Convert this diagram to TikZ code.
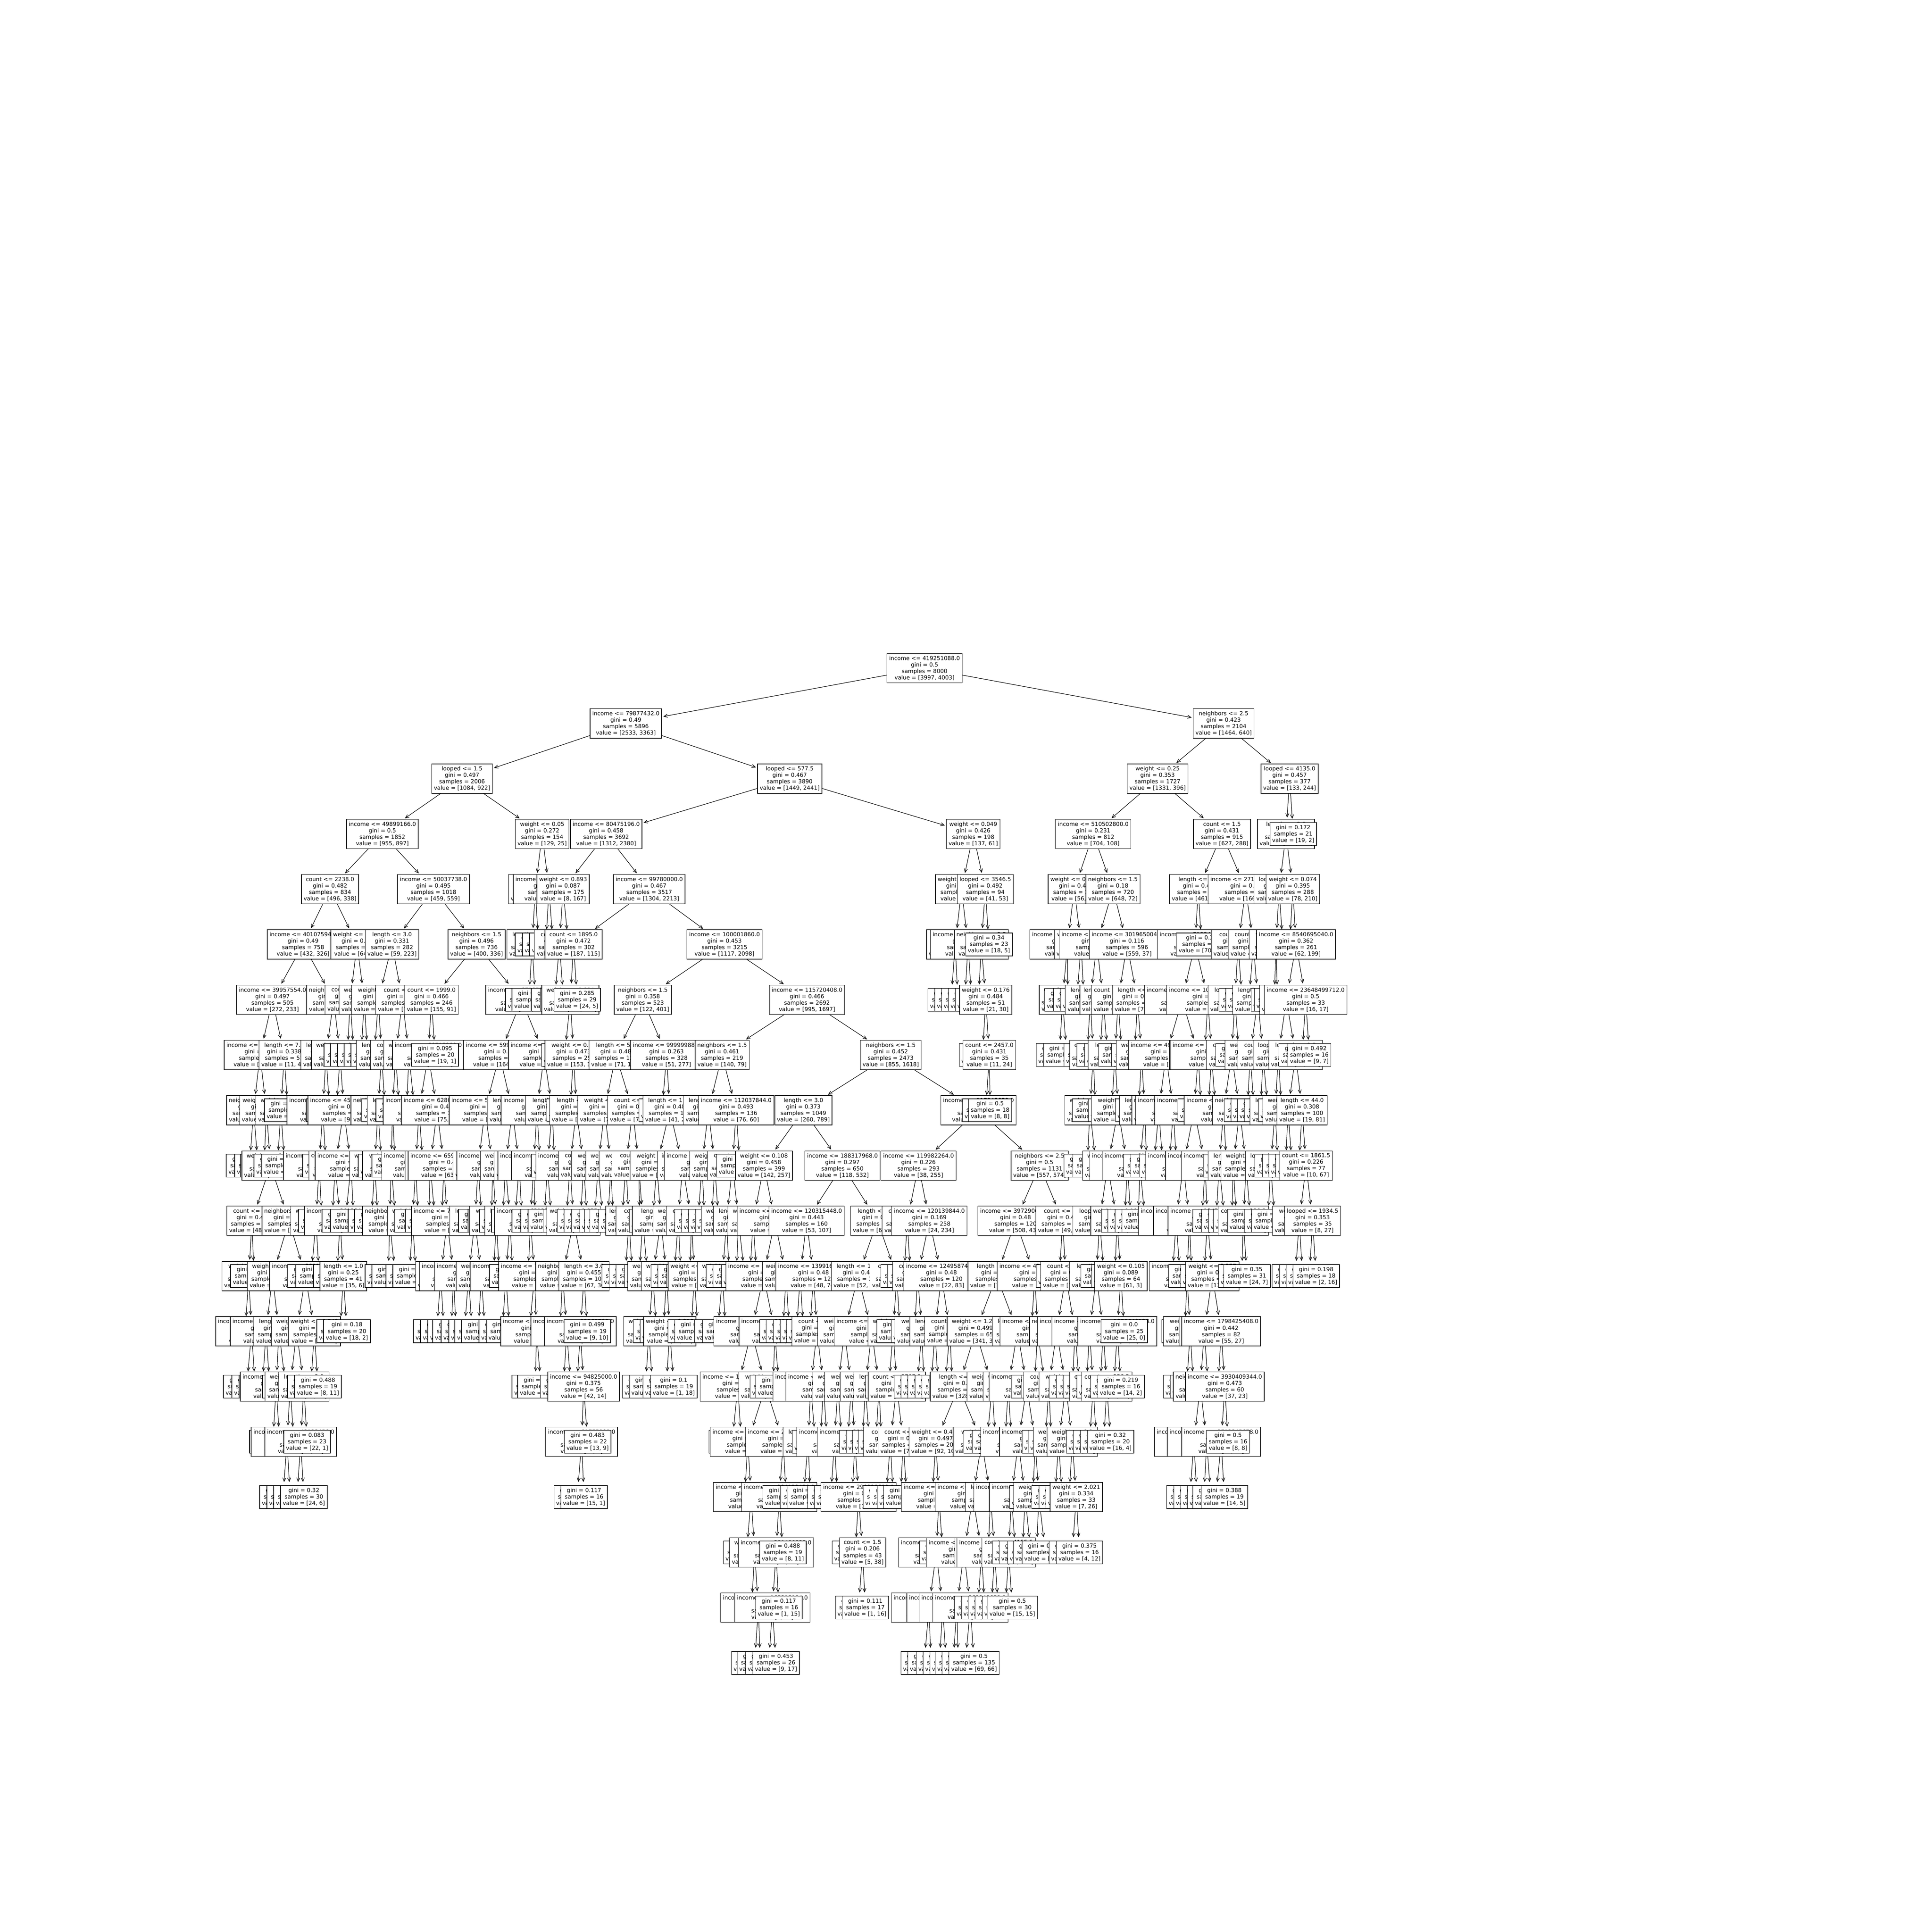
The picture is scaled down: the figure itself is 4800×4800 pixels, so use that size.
\documentclass[tikz,border=0pt]{standalone}
\usepackage{fontspec}
\setmainfont{DejaVu Sans}
\usetikzlibrary{arrows.meta}

% one level of the tree: sets its y and the level of the parents
\newcommand{\lvl}[1]{\def\lv{#1}\pgfmathtruncatemacro\plv{#1-1}\pgfmathsetmacro\ly{1660+137.3*#1}}
% parent x, own x, split, gini, samples, value
\newcommand{\fn}[6]{\node[split] (n\lv x#2) at (#2,\ly) {#3\\gini = #4\\samples = #5\\value = #6};
  \draw[arrow] (n\plv x#1) -- (n\lv x#2);}
% split box of which only a part shows
\newcommand{\cn}[4]{\node[split] (n\lv x#2) at (#2,\ly) {#3\\gini = 0.48\\samples = 120\\value = #4};
  \draw[arrow] (n\plv x#1) -- (n\lv x#2);}
% parent x, own x, gini, samples, value
\newcommand{\lf}[5]{\node[leaf] (n\lv x#2) at (#2,\ly) {gini = #3\\samples = #4\\value = #5};
  \draw[leafarrow] (n\plv x#1) -- (n\lv x#2);}
% leaf covered by its neighbours
\newcommand{\hl}[2]{\node[leaf] (n\lv x#2) at (#2,\ly) {gini = 0.375\\samples = 24\\value = [18, 6]};
  \draw[leafarrow] (n\plv x#1) -- (n\lv x#2);}

\begin{document}
\begin{tikzpicture}[x=0.01in, y=-0.01in]
    \tikzstyle{split}=[rectangle, draw=black, fill=white, line width=1bp, align=center, outer sep=0pt, inner xsep=0.055in, inner ysep=0pt, minimum height=0.73in, font=\fontsize{10bp}{11.56pt}\selectfont]
    \tikzstyle{leaf}=[split, minimum height=0.57in]
    \tikzstyle{arrow}=[->, line width=0.9bp, >={Straight Barb[length=0.09in, width=0.08in]}, shorten >=0.04in]
    \tikzstyle{leafarrow}=[arrow, shorten >=0.09in]

    \useasboundingbox (0,0) rectangle (4800,4800);

    % Root
    \lvl{0}
    \node[split] (n0x2297) at (2297,\ly) {income <= 419251088.0\\gini = 0.5\\samples = 8000\\value = [3997, 4003]};

    % Level 1
    \lvl{1}
    \fn{2297}{1555}{income <= 79877432.0}{0.49}{5896}{[2533, 3363]}
    \fn{2297}{3040}{neighbors <= 2.5}{0.423}{2104}{[1464, 640]}

    % Level 2
    \lvl{2}
    \fn{1555}{1148}{looped <= 1.5}{0.497}{2006}{[1084, 922]}
    \fn{1555}{1962}{looped <= 577.5}{0.467}{3890}{[1449, 2441]}
    \fn{3040}{2876}{weight <= 0.25}{0.353}{1727}{[1331, 396]}
    \fn{3040}{3204}{looped <= 4135.0}{0.457}{377}{[133, 244]}

    % Level 3
    \lvl{3}
    \fn{1148}{950}{income <= 49899166.0}{0.5}{1852}{[955, 897]}
    \fn{1148}{1347}{weight <= 0.05}{0.272}{154}{[129, 25]}
    \fn{1962}{1506}{income <= 80475196.0}{0.458}{3692}{[1312, 2380]}
    \fn{1962}{2418}{weight <= 0.049}{0.426}{198}{[137, 61]}
    \fn{2876}{2716}{income <= 510502800.0}{0.231}{812}{[704, 108]}
    \fn{2876}{3036}{count <= 1.5}{0.431}{915}{[627, 288]}
    \cn{3204}{3195}{length <= 3.0}{[114, 242]}
    \lf{3204}{3213}{0.172}{21}{[19, 2]}

    % Level 4
    \lvl{4}
    \fn{950}{820}{count <= 2238.0}{0.482}{834}{[496, 338]}
    \fn{950}{1077}{income <= 50037738.0}{0.495}{1018}{[459, 559]}
    \cn{1347}{1330}{count <= 2.5}{[72, 148]}
    \cn{1347}{1364}{income <= 91234567.0}{[72, 148]}
    \fn{1506}{1399}{weight <= 0.893}{0.087}{175}{[8, 167]}
    \fn{1506}{1613}{income <= 99780000.0}{0.467}{3517}{[1304, 2213]}
    \cn{2418}{2389}{weight <= 0.512}{[96, 8]}
    \fn{2418}{2448}{looped <= 3546.5}{0.492}{94}{[41, 53]}
    \cn{2716}{2669}{weight <= 0.712}{[56, 36]}
    \fn{2716}{2765}{neighbors <= 1.5}{0.18}{720}{[648, 72]}
    \cn{3036}{2977}{length <= 3.0}{[461, 120]}
    \cn{3036}{3095}{income <= 271923456.0}{[166, 168]}
    \cn{3195}{3178}{looped <= 5.5}{[36, 32]}
    \fn{3195}{3212}{weight <= 0.074}{0.395}{288}{[78, 210]}

    % Level 5
    \lvl{5}
    \fn{820}{753}{income <= 40107594.0}{0.49}{758}{[432, 326]}
    \cn{820}{887}{weight <= 0.212}{[64, 12]}
    \fn{1077}{974}{length <= 3.0}{0.331}{282}{[59, 223]}
    \fn{1077}{1184}{neighbors <= 1.5}{0.496}{736}{[400, 336]}
    \cn{1330}{1322}{length <= 4.5}{[72, 48]}
    \hl{1330}{1338}
    \hl{1364}{1356}
    \hl{1364}{1374}
    \cn{1399}{1390}{count <= 2.5}{[72, 48]}
    \hl{1399}{1412}
    \fn{1613}{1425}{count <= 1895.0}{0.472}{302}{[187, 115]}
    \fn{1613}{1800}{income <= 100001860.0}{0.453}{3215}{[1117, 2098]}
    \cn{2389}{2373}{length <= 3.0}{[172, 148]}
    \cn{2389}{2405}{income <= 123456789.0}{[72, 48]}
    \cn{2448}{2438}{neighbors <= 2.5}{[21, 30]}
    \lf{2448}{2457}{0.34}{23}{[18, 5]}
    \cn{2669}{2652}{income <= 412345678.0}{[72, 48]}
    \cn{2669}{2686}{weight <= 0.812}{[72, 148]}
    \cn{2765}{2725}{income <= 212345678.0}{[89, 35]}
    \fn{2765}{2800}{income <= 301965004.0}{0.116}{596}{[559, 37]}
    \cn{2977}{2969}{income <= 712345678.0}{[391, 98]}
    \lf{2977}{2985}{0.32}{20}{[70, 22]}
    \cn{3095}{3076}{count <= 4.5}{[72, 148]}
    \cn{3095}{3114}{count <= 3.5}{[72, 48]}
    \cn{3178}{3170}{weight <= 0.9}{[72, 148]}
    \hl{3178}{3187}
    \hl{3212}{3204}
    \fn{3212}{3220}{income <= 8540695040.0}{0.362}{261}{[62, 199]}

    % Level 6
    \lvl{6}
    \fn{753}{677}{income <= 39957554.0}{0.497}{505}{[272, 233]}
    \cn{753}{829}{neighbors <= 1.5}{[160, 93]}
    \cn{887}{870}{count <= 5.5}{[72, 48]}
    \cn{887}{905}{weight <= 0.3}{[72, 48]}
    \cn{974}{940}{weight <= 0.4}{[72, 148]}
    \cn{974}{1000}{count <= 6.5}{[72, 148]}
    \fn{1184}{1072}{count <= 1999.0}{0.466}{246}{[155, 91]}
    \cn{1184}{1296}{income <= 87185344.0}{[245, 245]}
    \hl{1322}{1314}
    \hl{1322}{1330}
    \hl{1390}{1378}
    \hl{1390}{1400}
    \cn{1425}{1417}{weight <= 0.884}{[163, 110]}
    \lf{1425}{1434}{0.285}{29}{[24, 5]}
    \fn{1800}{1597}{neighbors <= 1.5}{0.358}{523}{[122, 401]}
    \fn{1800}{2005}{income <= 115720408.0}{0.466}{2692}{[995, 1697]}
    \hl{2373}{2363}
    \hl{2373}{2380}
    \hl{2405}{2397}
    \hl{2405}{2414}
    \hl{2438}{2431}
    \fn{2438}{2449}{weight <= 0.176}{0.484}{51}{[21, 30]}
    \cn{2652}{2640}{count <= 4.5}{[24, 5]}
    \hl{2652}{2653}
    \hl{2686}{2675}
    \hl{2686}{2693}
    \cn{2725}{2709}{length <= 7.5}{[72, 48]}
    \cn{2725}{2741}{length <= 3.5}{[24, 5]}
    \cn{2800}{2778}{count <= 2105.5}{[72, 148]}
    \cn{2800}{2826}{length <= 4.5}{[72, 48]}
    \cn{2969}{2937}{income <= 612345678.0}{[72, 48]}
    \cn{2969}{3001}{income <= 10123456768.0}{[72, 48]}
    \cn{3076}{3068}{looped <= 6.5}{[72, 148]}
    \hl{3076}{3086}
    \hl{3114}{3103}
    \cn{3114}{3125}{length <= 9.5}{[72, 48]}
    \hl{3170}{3166}
    \hl{3170}{3174}
    \cn{3220}{3196}{weight <= 0.3}{[46, 182]}
    \fn{3220}{3244}{income <= 23648499712.0}{0.5}{33}{[16, 17]}

    % Level 7
    \lvl{7}
    \cn{677}{646}{income <= 38123456.0}{[261, 193]}
    \fn{677}{706}{length <= 7.0}{0.338}{51}{[11, 40]}
    \cn{829}{810}{length <= 2.5}{[72, 48]}
    \cn{829}{845}{weight <= 0.412}{[172, 148]}
    \hl{870}{863}
    \hl{870}{879}
    \hl{905}{897}
    \hl{905}{913}
    \hl{940}{930}
    \cn{940}{948}{length <= 6.5}{[72, 48]}
    \cn{1000}{983}{count <= 3.5}{[72, 48]}
    \cn{1000}{1016}{weight <= 0.5}{[72, 48]}
    \cn{1072}{1064}{income <= 50717200.0}{[136, 90]}
    \lf{1072}{1081}{0.095}{20}{[19, 1]}
    \cn{1296}{1241}{income <= 59912345.0}{[164, 130]}
    \cn{1296}{1352}{income <= 71234567.0}{[81, 115]}
    \hl{1417}{1403}
    \fn{1417}{1425}{weight <= 0.05}{0.473}{253}{[153, 100]}
    \cn{1597}{1530}{length <= 5.5}{[71, 124]}
    \fn{1597}{1656}{income <= 99999988.0}{0.263}{328}{[51, 277]}
    \fn{2005}{1794}{neighbors <= 1.5}{0.461}{219}{[140, 79]}
    \fn{2005}{2213}{neighbors <= 1.5}{0.452}{2473}{[855, 1618]}
    \hl{2449}{2441}
    \fn{2449}{2458}{count <= 2457.0}{0.431}{35}{[11, 24]}
    \hl{2640}{2632}
    \hl{2640}{2650}
    \hl{2709}{2701}
    \cn{2709}{2716}{count <= 5.5}{[24, 5]}
    \hl{2741}{2733}
    \hl{2741}{2752}
    \cn{2778}{2770}{length <= 8.5}{[72, 148]}
    \hl{2778}{2787}
    \hl{2826}{2819}
    \cn{2826}{2836}{weight <= 0.6}{[72, 48]}
    \cn{2937}{2897}{income <= 491234567.0}{[72, 48]}
    \cn{2937}{2977}{length <= 6.5}{[172, 148]}
    \hl{3001}{2993}
    \cn{3001}{3010}{income <= 12345678912.0}{[72, 48]}
    \cn{3068}{3060}{count <= 2.5}{[72, 48]}
    \hl{3068}{3078}
    \cn{3125}{3106}{weight <= 0.7}{[72, 48]}
    \cn{3125}{3138}{count <= 7.5}{[72, 48]}
    \cn{3196}{3176}{looped <= 8.5}{[72, 48]}
    \cn{3196}{3219}{looped <= 2.5}{[72, 148]}
    \hl{3244}{3235}
    \lf{3244}{3253}{0.492}{16}{[9, 7]}

    % Level 8
    \lvl{8}
    \cn{646}{630}{neighbors <= 2.5}{[72, 148]}
    \cn{646}{662}{weight <= 0.338}{[172, 48]}
    \cn{706}{698}{weight <= 0.2}{[72, 48]}
    \hl{706}{715}
    \cn{810}{802}{income <= 38567890.0}{[72, 48]}
    \hl{810}{819}
    \hl{845}{836}
    \cn{845}{854}{income <= 45123456.0}{[97, 63]}
    \cn{948}{939}{neighbors <= 3.5}{[72, 148]}
    \hl{948}{957}
    \cn{983}{975}{length <= 4.5}{[72, 48]}
    \hl{983}{992}
    \hl{1016}{1010}
    \hl{1016}{1030}
    \cn{1064}{1041}{income <= 48123456.0}{[72, 48]}
    \cn{1064}{1086}{income <= 62801234.0}{[75, 85]}
    \cn{1241}{1205}{income <= 52345678.0}{[72, 48]}
    \cn{1241}{1273}{length <= 2.5}{[72, 48]}
    \cn{1352}{1334}{income <= 68123456.0}{[72, 48]}
    \cn{1352}{1372}{length <= 3.5}{[72, 148]}
    \hl{1425}{1416}
    \cn{1425}{1432}{length <= 5.5}{[72, 148]}
    \cn{1530}{1502}{weight <= 0.4}{[72, 148]}
    \cn{1530}{1572}{count <= 8.5}{[72, 48]}
    \hl{1656}{1645}
    \cn{1656}{1664}{length <= 11.5}{[41, 253]}
    \cn{1794}{1760}{length <= 9.5}{[72, 48]}
    \fn{1794}{1829}{income <= 112037844.0}{0.493}{136}{[76, 60]}
    \fn{2213}{1996}{length <= 3.0}{0.373}{1049}{[260, 789]}
    \cn{2213}{2431}{income <= 117345678.0}{[595, 829]}
    \hl{2458}{2449}
    \lf{2458}{2460}{0.5}{18}{[8, 8]}
    \cn{2716}{2708}{weight <= 0.5}{[72, 48]}
    \hl{2716}{2722}
    \hl{2770}{2762}
    \cn{2770}{2778}{weight <= 0.3}{[72, 148]}
    \hl{2836}{2829}
    \cn{2836}{2844}{length <= 2.5}{[72, 48]}
    \cn{2897}{2879}{neighbors <= 2.5}{[72, 148]}
    \cn{2897}{2915}{income <= 521234567.0}{[72, 48]}
    \cn{2977}{2967}{income <= 6123456789.0}{[72, 48]}
    \hl{2977}{2984}
    \hl{3010}{3002}
    \hl{3010}{3020}
    \cn{3060}{3040}{income <= 2345678912.0}{[72, 48]}
    \cn{3060}{3080}{neighbors <= 3.5}{[72, 48]}
    \hl{3106}{3099}
    \hl{3106}{3116}
    \hl{3138}{3132}
    \hl{3138}{3150}
    \cn{3176}{3168}{length <= 6.5}{[72, 48]}
    \hl{3176}{3184}
    \cn{3219}{3200}{weight <= 0.9}{[72, 48]}
    \fn{3219}{3235}{length <= 44.0}{0.308}{100}{[19, 81]}

    % Level 9
    \lvl{9}
    \hl{630}{620}
    \hl{630}{641}
    \hl{662}{656}
    \cn{662}{672}{weight <= 0.212}{[172, 148]}
    \hl{698}{689}
    \hl{698}{707}
    \cn{802}{793}{income <= 37123456.0}{[72, 48]}
    \hl{802}{810}
    \cn{854}{833}{count <= 1755.5}{[72, 48]}
    \cn{854}{872}{income <= 47123456.0}{[72, 48]}
    \cn{939}{931}{weight <= 0.6}{[72, 48]}
    \hl{939}{948}
    \cn{975}{972}{weight <= 0.45}{[172, 148]}
    \hl{975}{982}
    \hl{1041}{1051}
    \cn{1041}{1033}{income <= 4712345.0}{[72, 48]}
    \cn{1086}{1069}{weight <= 0.8}{[72, 48]}
    \cn{1086}{1103}{income <= 65901234.0}{[63, 77]}
    \cn{1205}{1188}{income <= 1.5}{[72, 48]}
    \cn{1205}{1224}{income <= 54123456.0}{[72, 48]}
    \cn{1273}{1256}{weight <= 0.5}{[72, 48]}
    \cn{1273}{1290}{weight <= 0.1}{[72, 48]}
    \cn{1334}{1326}{income <= 66123456.0}{[72, 48]}
    \hl{1334}{1342}
    \cn{1372}{1360}{income <= 69123456.0}{[72, 48]}
    \hl{1372}{1378}
    \cn{1432}{1416}{income <= 7212345.0}{[72, 48]}
    \cn{1432}{1450}{count <= 4.5}{[72, 48]}
    \cn{1502}{1486}{weight <= 0.3}{[72, 148]}
    \cn{1502}{1518}{weight <= 0.2}{[72, 48]}
    \cn{1572}{1555}{weight <= 0.4}{[72, 148]}
    \cn{1572}{1587}{count <= 2.5}{[72, 148]}
    \cn{1664}{1632}{weight <= 0.7}{[72, 148]}
    \cn{1664}{1696}{income <= 1.5}{[72, 48]}
    \cn{1760}{1744}{income <= 101234567.0}{[72, 48]}
    \cn{1760}{1776}{weight <= 0.6}{[72, 48]}
    \cn{1829}{1820}{count <= 3.5}{[72, 48]}
    \hl{1829}{1838}
    \fn{1996}{1898}{weight <= 0.108}{0.458}{399}{[142, 257]}
    \fn{1996}{2093}{income <= 188317968.0}{0.297}{650}{[118, 532]}
    \fn{2431}{2282}{income <= 119982264.0}{0.226}{293}{[38, 255]}
    \fn{2431}{2583}{neighbors <= 2.5}{0.5}{1131}{[557, 574]}
    \hl{2708}{2701}
    \hl{2708}{2723}
    \cn{2778}{2752}{weight <= 0.3}{[72, 48]}
    \cn{2778}{2801}{income <= 712345678.0}{[72, 48]}
    \cn{2844}{2832}{income <= 812345678.0}{[72, 48]}
    \hl{2844}{2849}
    \hl{2879}{2867}
    \hl{2879}{2889}
    \hl{2915}{2905}
    \hl{2915}{2923}
    \cn{2967}{2940}{income <= 912345678.0}{[72, 48]}
    \cn{2967}{2994}{income <= 1123456789.0}{[72, 48]}
    \cn{3040}{3029}{income <= 212345678.0}{[72, 48]}
    \hl{3040}{3047}
    \cn{3080}{3064}{length <= 3.5}{[72, 48]}
    \cn{3080}{3096}{weight <= 0.5}{[72, 48]}
    \cn{3168}{3157}{looped <= 1.5}{[72, 48]}
    \hl{3168}{3175}
    \hl{3200}{3194}
    \hl{3200}{3210}
    \hl{3235}{3227}
    \fn{3235}{3245}{count <= 1861.5}{0.226}{77}{[10, 67]}

    % Level 10
    \lvl{10}
    \cn{672}{626}{count <= 4.5}{[48, 12]}
    \cn{672}{718}{neighbors <= 2.5}{[72, 148]}
    \cn{793}{785}{weight <= 0.3}{[72, 48]}
    \hl{793}{800}
    \hl{833}{825}
    \cn{833}{845}{income <= 36123456.0}{[72, 48]}
    \hl{872}{858}
    \hl{872}{879}
    \hl{931}{923}
    \hl{931}{939}
    \hl{972}{983}
    \cn{972}{968}{neighbors <= 1.5}{[24, 5]}
    \cn{1033}{1025}{weight <= 0.4}{[72, 48]}
    \hl{1033}{1039}
    \hl{1069}{1065}
    \hl{1069}{1081}
    \hl{1103}{1097}
    \cn{1103}{1111}{income <= 71234567.0}{[72, 48]}
    \cn{1188}{1180}{length <= 4.5}{[72, 48]}
    \hl{1188}{1197}
    \hl{1224}{1221}
    \cn{1224}{1233}{weight <= 0.3}{[72, 148]}
    \hl{1256}{1249}
    \cn{1256}{1267}{length <= 2.5}{[72, 48]}
    \hl{1290}{1279}
    \hl{1290}{1297}
    \cn{1326}{1318}{income <= 63123456.0}{[72, 48]}
    \hl{1326}{1330}
    \hl{1360}{1352}
    \hl{1360}{1370}
    \hl{1416}{1407}
    \cn{1416}{1425}{weight <= 0.875}{[72, 148]}
    \hl{1450}{1442}
    \hl{1450}{1459}
    \hl{1486}{1477}
    \hl{1486}{1498}
    \hl{1518}{1510}
    \hl{1518}{1523}
    \hl{1555}{1545}
    \cn{1555}{1563}{length <= 2.5}{[24, 5]}
    \hl{1587}{1589}
    \cn{1587}{1597}{count <= 3.5}{[72, 148]}
    \hl{1632}{1621}
    \cn{1632}{1642}{length <= 7.5}{[172, 148]}
    \cn{1696}{1685}{weight <= 0.1}{[72, 48]}
    \cn{1696}{1718}{count <= 6.5}{[72, 48]}
    \hl{1744}{1734}
    \hl{1744}{1751}
    \hl{1776}{1768}
    \hl{1776}{1785}
    \cn{1820}{1805}{weight <= 0.4}{[72, 48]}
    \cn{1820}{1835}{length <= 3.5}{[72, 48]}
    \cn{1898}{1871}{weight <= 0.2}{[72, 48]}
    \cn{1898}{1925}{income <= 108123456.0}{[89, 150]}
    \fn{2093}{2004}{income <= 120315448.0}{0.443}{160}{[53, 107]}
    \cn{2093}{2180}{length <= 8.5}{[65, 425]}
    \cn{2282}{2254}{count <= 2.5}{[14, 21]}
    \fn{2282}{2309}{income <= 120139844.0}{0.169}{258}{[24, 234]}
    \cn{2583}{2523}{income <= 397290624.0}{[508, 437]}
    \cn{2583}{2640}{count <= 3.5}{[49, 137]}
    \cn{2752}{2732}{looped <= 4.5}{[72, 148]}
    \cn{2752}{2775}{weight <= 0.105}{[72, 48]}
    \hl{2801}{2794}
    \hl{2801}{2810}
    \hl{2832}{2828}
    \hl{2832}{2845}
    \cn{2940}{2922}{income <= 812345678.0}{[72, 48]}
    \cn{2940}{2955}{income <= 83456789.0}{[72, 48]}
    \hl{2994}{2986}
    \cn{2994}{3000}{income <= 1347123456.0}{[72, 48]}
    \hl{3029}{3021}
    \hl{3029}{3043}
    \hl{3064}{3060}
    \hl{3064}{3072}
    \cn{3096}{3089}{count <= 256.5}{[72, 48]}
    \hl{3096}{3107}
    \hl{3157}{3150}
    \hl{3157}{3167}
    \cn{3245}{3228}{weight <= 0.3}{[72, 148]}
    \fn{3245}{3261}{looped <= 1934.5}{0.353}{35}{[8, 27]}

    % Level 11
    \lvl{11}
    \cn{626}{618}{weight <= 0.4}{[72, 148]}
    \hl{626}{631}
    \cn{718}{677}{weight <= 0.2}{[72, 48]}
    \cn{718}{759}{income <= 38912345.0}{[72, 48]}
    \hl{785}{773}
    \hl{785}{793}
    \hl{845}{837}
    \fn{845}{853}{length <= 1.0}{0.25}{41}{[35, 6]}
    \hl{968}{965}
    \hl{968}{982}
    \hl{1025}{1017}
    \hl{1025}{1034}
    \cn{1111}{1095}{income <= 1.5}{[72, 48]}
    \cn{1111}{1127}{income <= 7012345.0}{[72, 48]}
    \cn{1180}{1164}{income <= 5312345.0}{[72, 48]}
    \cn{1180}{1196}{weight <= 0.6}{[72, 48]}
    \hl{1233}{1226}
    \hl{1233}{1241}
    \cn{1267}{1257}{income <= 61234567.0}{[72, 48]}
    \hl{1267}{1274}
    \hl{1318}{1312}
    \cn{1318}{1328}{income <= 75123456.0}{[72, 48]}
    \cn{1425}{1398}{neighbors <= 2.5}{[72, 48]}
    \fn{1425}{1451}{length <= 3.0}{0.455}{103}{[67, 36]}
    \hl{1563}{1553}
    \hl{1563}{1571}
    \hl{1597}{1588}
    \hl{1597}{1609}
    \cn{1642}{1622}{weight <= 0.7}{[72, 48]}
    \cn{1642}{1656}{weight <= 0.3}{[72, 48]}
    \hl{1685}{1675}
    \hl{1685}{1692}
    \hl{1718}{1714}
    \cn{1718}{1725}{weight <= 0.212}{[72, 48]}
    \cn{1805}{1795}{weight <= 0.5}{[72, 48]}
    \hl{1805}{1812}
    \hl{1835}{1829}
    \hl{1835}{1850}
    \hl{1871}{1863}
    \hl{1871}{1880}
    \cn{1925}{1897}{income <= 105123456.0}{[72, 48]}
    \cn{1925}{1953}{weight <= 0.4}{[24, 5]}
    \cn{2004}{1988}{count <= 5.5}{[5, 33]}
    \cn{2004}{2021}{income <= 139916224.0}{[48, 74]}
    \cn{2180}{2132}{length <= 12.5}{[52, 308]}
    \cn{2180}{2228}{count <= 4.5}{[72, 148]}
    \hl{2254}{2246}
    \hl{2254}{2262}
    \cn{2309}{2280}{count <= 7.5}{[72, 48]}
    \cn{2309}{2339}{income <= 124958744.0}{[22, 83]}
    \cn{2523}{2476}{length <= 5.5}{[172, 148]}
    \cn{2523}{2571}{income <= 412345678.0}{[72, 48]}
    \hl{2640}{2632}
    \cn{2640}{2648}{count <= 2.5}{[72, 48]}
    \cn{2732}{2724}{length <= 2.5}{[72, 148]}
    \hl{2732}{2743}
    \hl{2775}{2770}
    \fn{2775}{2785}{weight <= 0.105}{0.089}{64}{[61, 3]}
    \hl{2922}{2913}
    \hl{2922}{2932}
    \cn{2955}{2949}{income <= 912345678.0}{[72, 48]}
    \hl{2955}{2961}
    \hl{3000}{2991}
    \cn{3000}{3012}{weight <= 0.377}{[13, 147]}
    \hl{3089}{3085}
    \lf{3089}{3098}{0.35}{31}{[24, 7]}
    \hl{3228}{3218}
    \hl{3228}{3236}
    \hl{3261}{3253}
    \lf{3261}{3270}{0.198}{18}{[2, 16]}

    % Level 12
    \lvl{12}
    \hl{618}{609}
    \cn{618}{625}{income <= 38123456.0}{[72, 48]}
    \cn{677}{661}{income <= 41234567.0}{[72, 48]}
    \cn{677}{693}{length <= 2.5}{[72, 48]}
    \cn{759}{737}{weight <= 0.4}{[72, 48]}
    \cn{759}{781}{weight <= 0.543}{[72, 48]}
    \hl{853}{845}
    \lf{853}{862}{0.18}{20}{[18, 2]}
    \hl{1095}{1085}
    \hl{1095}{1103}
    \hl{1127}{1121}
    \hl{1127}{1133}
    \hl{1164}{1154}
    \hl{1164}{1173}
    \hl{1196}{1188}
    \hl{1196}{1205}
    \hl{1257}{1248}
    \hl{1257}{1266}
    \hl{1328}{1315}
    \cn{1328}{1333}{income <= 78123456.0}{[72, 48]}
    \hl{1398}{1391}
    \cn{1398}{1408}{income <= 88123456.0}{[72, 48]}
    \cn{1451}{1442}{income <= 92263700.0}{[58, 24]}
    \lf{1451}{1459}{0.499}{19}{[9, 10]}
    \cn{1622}{1612}{weight <= 0.5}{[72, 48]}
    \hl{1622}{1631}
    \hl{1656}{1648}
    \cn{1656}{1664}{weight <= 0.318}{[72, 48]}
    \hl{1725}{1717}
    \hl{1725}{1734}
    \hl{1795}{1783}
    \hl{1795}{1803}
    \cn{1897}{1867}{income <= 103456789.0}{[72, 48]}
    \cn{1897}{1925}{income <= 10571234.0}{[72, 48]}
    \hl{1953}{1945}
    \hl{1953}{1961}
    \hl{1988}{1979}
    \hl{1988}{1996}
    \hl{2021}{2012}
    \cn{2021}{2030}{count <= 2.5}{[72, 48]}
    \cn{2132}{2098}{weight <= 0.3}{[72, 148]}
    \cn{2132}{2166}{income <= 235678912.0}{[35, 70]}
    \cn{2228}{2219}{weight <= 0.1}{[72, 48]}
    \hl{2228}{2236}
    \hl{2280}{2272}
    \cn{2280}{2290}{weight <= 0.8}{[72, 148]}
    \cn{2339}{2323}{length <= 7.5}{[72, 48]}
    \cn{2339}{2360}{count <= 8.5}{[72, 48]}
    \fn{2476}{2424}{weight <= 1.245}{0.499}{653}{[341, 312]}
    \cn{2476}{2528}{length <= 4.5}{[72, 48]}
    \hl{2571}{2562}
    \cn{2571}{2578}{income <= 481234567.0}{[72, 48]}
    \cn{2648}{2625}{neighbors <= 1.5}{[72, 148]}
    \cn{2648}{2671}{income <= 612345678.0}{[72, 48]}
    \cn{2724}{2707}{income <= 712345678.0}{[72, 48]}
    \cn{2724}{2741}{count <= 2.5}{[72, 48]}
    \cn{2785}{2776}{income <= 1350640128.0}{[36, 3]}
    \lf{2785}{2793}{0.0}{25}{[25, 0]}
    \hl{2949}{2944}
    \cn{2949}{2957}{weight <= 0.7}{[72, 148]}
    \cn{3012}{2992}{length <= 6.5}{[72, 48]}
    \fn{3012}{3034}{income <= 1798425408.0}{0.442}{82}{[55, 27]}

    % Level 13
    \lvl{13}
    \hl{625}{613}
    \hl{625}{634}
    \hl{661}{652}
    \hl{661}{670}
    \cn{693}{686}{income <= 39123456.0}{[72, 48]}
    \hl{693}{710}
    \cn{737}{721}{weight <= 0.2}{[72, 48]}
    \cn{737}{755}{length <= 2.0}{[72, 48]}
    \hl{781}{772}
    \lf{781}{790}{0.488}{19}{[8, 11]}
    \hl{1333}{1330}
    \hl{1333}{1344}
    \hl{1408}{1400}
    \hl{1408}{1418}
    \hl{1442}{1433}
    \fn{1442}{1450}{income <= 94825000.0}{0.375}{56}{[42, 14]}
    \hl{1612}{1604}
    \hl{1612}{1621}
    \hl{1664}{1655}
    \lf{1664}{1674}{0.1}{19}{[1, 18]}
    \cn{1867}{1833}{income <= 102345678.0}{[72, 48]}
    \cn{1867}{1902}{weight <= 0.4}{[72, 148]}
    \hl{1925}{1921}
    \hl{1925}{1935}
    \cn{2030}{2014}{income <= 198123456.0}{[72, 48]}
    \cn{2030}{2046}{income <= 212345678.0}{[72, 48]}
    \cn{2098}{2082}{weight <= 0.3}{[72, 48]}
    \cn{2098}{2115}{weight <= 0.5}{[72, 148]}
    \cn{2166}{2150}{weight <= 0.1}{[72, 48]}
    \cn{2166}{2184}{length <= 4.5}{[72, 48]}
    \hl{2219}{2208}
    \cn{2219}{2228}{count <= 2707.5}{[172, 148]}
    \hl{2290}{2279}
    \hl{2290}{2296}
    \hl{2323}{2313}
    \hl{2323}{2331}
    \hl{2360}{2348}
    \hl{2360}{2366}
    \cn{2424}{2382}{length <= 8.5}{[328, 172]}
    \cn{2424}{2465}{weight <= 0.6}{[72, 48]}
    \cn{2528}{2505}{weight <= 0.2}{[72, 48]}
    \cn{2528}{2551}{income <= 561234567.0}{[72, 48]}
    \hl{2578}{2570}
    \hl{2578}{2596}
    \cn{2625}{2606}{count <= 3.5}{[72, 48]}
    \cn{2625}{2648}{weight <= 0.4}{[72, 148]}
    \hl{2671}{2664}
    \hl{2671}{2682}
    \hl{2707}{2699}
    \cn{2707}{2716}{count <= 2.5}{[24, 5]}
    \hl{2741}{2733}
    \cn{2741}{2750}{count <= 256.5}{[72, 48]}
    \hl{2776}{2767}
    \lf{2776}{2785}{0.219}{16}{[14, 2]}
    \hl{2957}{2948}
    \hl{2957}{2965}
    \cn{2992}{2982}{neighbors <= 2.5}{[72, 148]}
    \hl{2992}{3002}
    \hl{3034}{3026}
    \fn{3034}{3043}{income <= 3930409344.0}{0.473}{60}{[37, 23]}

    % Level 14
    \lvl{14}
    \hl{686}{678}
    \hl{686}{695}
    \cn{721}{713}{income <= 41234567.0}{[72, 48]}
    \hl{721}{730}
    \cn{755}{747}{income <= 42123456.0}{[72, 48]}
    \lf{755}{763}{0.083}{23}{[22, 1]}
    \cn{1450}{1445}{income <= 91755000.0}{[29, 5]}
    \lf{1450}{1460}{0.483}{22}{[13, 9]}
    \hl{1833}{1819}
    \hl{1833}{1842}
    \cn{1902}{1858}{income <= 183456789.0}{[72, 48]}
    \cn{1902}{1946}{income <= 284567891.0}{[72, 48]}
    \cn{2014}{2008}{length <= 3.5}{[72, 48]}
    \hl{2014}{2026}
    \hl{2046}{2038}
    \hl{2046}{2055}
    \cn{2082}{2073}{income <= 261234567.0}{[72, 48]}
    \hl{2082}{2091}
    \hl{2115}{2106}
    \cn{2115}{2124}{income <= 291234567.0}{[72, 48]}
    \hl{2150}{2143}
    \hl{2150}{2160}
    \hl{2184}{2176}
    \hl{2184}{2190}
    \cn{2228}{2212}{count <= 4.5}{[72, 148]}
    \cn{2228}{2244}{count <= 1.5}{[72, 48]}
    \fn{2382}{2325}{weight <= 0.425}{0.497}{201}{[92, 109]}
    \cn{2382}{2439}{weight <= 0.7}{[172, 148]}
    \hl{2465}{2452}
    \hl{2465}{2473}
    \hl{2505}{2497}
    \hl{2505}{2513}
    \cn{2551}{2530}{income <= 612345678.0}{[72, 48]}
    \cn{2551}{2572}{income <= 71234567.0}{[72, 48]}
    \hl{2606}{2597}
    \hl{2606}{2612}
    \cn{2648}{2630}{weight <= 0.3}{[72, 48]}
    \cn{2648}{2664}{weight <= 0.8}{[72, 48]}
    \hl{2716}{2707}
    \hl{2716}{2724}
    \hl{2750}{2742}
    \lf{2750}{2759}{0.32}{20}{[16, 4]}
    \cn{2982}{2966}{income <= 2312345678.0}{[72, 48]}
    \cn{2982}{2998}{income <= 2812345678.0}{[72, 48]}
    \cn{3043}{3034}{income <= 3712345678.0}{[29, 15]}
    \lf{3043}{3051}{0.5}{16}{[8, 8]}

    % Level 15
    \lvl{15}
    \hl{713}{703}
    \hl{713}{721}
    \hl{747}{738}
    \lf{747}{755}{0.32}{30}{[24, 6]}
    \hl{1445}{1434}
    \lf{1445}{1451}{0.117}{16}{[15, 1]}
    \hl{1858}{1850}
    \cn{1858}{1866}{income <= 203456789.0}{[72, 48]}
    \cn{1946}{1936}{income <= 284123456.0}{[72, 48]}
    \hl{1946}{1953}
    \hl{2008}{1996}
    \hl{2008}{2013}
    \hl{2073}{2064}
    \hl{2073}{2081}
    \hl{2124}{2117}
    \cn{2124}{2133}{income <= 290328608.0}{[13, 52]}
    \hl{2212}{2202}
    \hl{2212}{2219}
    \hl{2244}{2237}
    \hl{2244}{2253}
    \hl{2325}{2316}
    \cn{2325}{2333}{income <= 312345678.0}{[72, 48]}
    \cn{2439}{2417}{income <= 381234567.0}{[72, 48]}
    \cn{2439}{2461}{length <= 3.5}{[72, 48]}
    \cn{2530}{2513}{income <= 512345678.0}{[72, 48]}
    \cn{2530}{2547}{income <= 53456789.0}{[72, 48]}
    \hl{2572}{2566}
    \cn{2572}{2581}{weight <= 0.4}{[72, 48]}
    \hl{2630}{2621}
    \hl{2630}{2639}
    \hl{2664}{2656}
    \fn{2664}{2674}{weight <= 2.021}{0.334}{33}{[7, 26]}
    \hl{2966}{2956}
    \hl{2966}{2974}
    \hl{2998}{2991}
    \hl{2998}{3008}
    \hl{3034}{3021}
    \lf{3034}{3042}{0.388}{19}{[14, 5]}

    % Level 16
    \lvl{16}
    \hl{1866}{1855}
    \cn{1866}{1875}{weight <= 0.7}{[72, 48]}
    \cn{1936}{1928}{income <= 281400832.0}{[10, 32]}
    \lf{1936}{1945}{0.488}{19}{[8, 11]}
    \hl{2133}{2125}
    \fn{2133}{2143}{count <= 1.5}{0.206}{43}{[5, 38]}
    \cn{2333}{2326}{income <= 312345678.0}{[72, 48]}
    \hl{2333}{2342}
    \cn{2417}{2395}{income <= 381234567.0}{[72, 48]}
    \cn{2417}{2439}{income <= 1.5}{[72, 148]}
    \hl{2461}{2455}
    \cn{2461}{2471}{income <= 412345678.0}{[72, 48]}
    \cn{2513}{2506}{count <= 4155.5}{[72, 148]}
    \hl{2513}{2523}
    \hl{2547}{2540}
    \hl{2547}{2561}
    \hl{2581}{2575}
    \hl{2581}{2597}
    \hl{2674}{2664}
    \lf{2674}{2682}{0.375}{16}{[4, 12]}

    % Level 17
    \lvl{17}
    \hl{1875}{1867}
    \cn{1875}{1884}{income <= 273456789.0}{[72, 48]}
    \cn{1928}{1919}{income <= 165315184.0}{[9, 17]}
    \lf{1928}{1935}{0.117}{16}{[1, 15]}
    \hl{2143}{2133}
    \lf{2143}{2150}{0.111}{17}{[1, 16]}
    \cn{2326}{2308}{income <= 301234567.0}{[72, 48]}
    \cn{2326}{2342}{income <= 31234567.0}{[72, 48]}
    \cn{2395}{2377}{income <= 351234567.0}{[72, 48]}
    \cn{2395}{2411}{income <= 362345678.0}{[69, 66]}
    \hl{2439}{2429}
    \hl{2439}{2446}
    \hl{2471}{2463}
    \hl{2471}{2480}
    \hl{2506}{2498}
    \lf{2506}{2515}{0.5}{30}{[15, 15]}

    % Level 18
    \lvl{18}
    \hl{1884}{1875}
    \hl{1884}{1889}
    \hl{1919}{1910}
    \lf{1919}{1928}{0.453}{26}{[9, 17]}
    \hl{2308}{2296}
    \hl{2308}{2313}
    \hl{2342}{2334}
    \hl{2342}{2351}
    \hl{2377}{2368}
    \hl{2377}{2381}
    \hl{2411}{2398}
    \lf{2411}{2420}{0.5}{135}{[69, 66]}
\end{tikzpicture}
\end{document}
